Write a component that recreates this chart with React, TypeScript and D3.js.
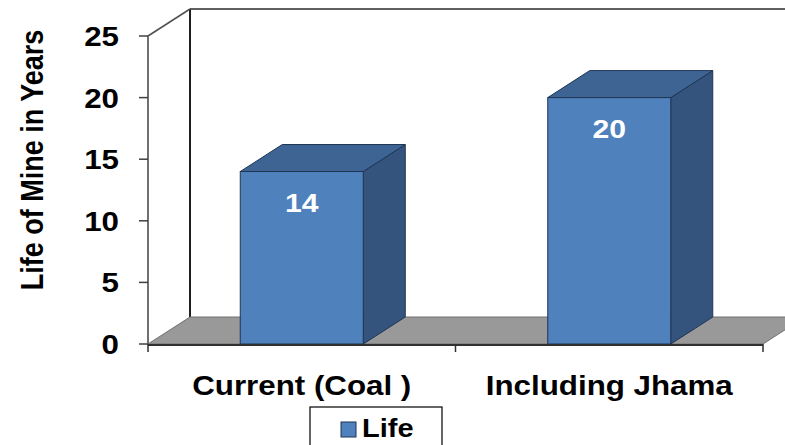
import React from "react";
import * as d3 from "d3";

const categories = ["Current (Coal )", "Including Jhama"];
const lifeValues = [14, 20];
const yTicks = [0, 5, 10, 15, 20, 25];
const seriesName = "Life";

const W = 785;
const H = 445;
const DX = 42;
const DY = -27;
const SX = 1.16;
const FONT = "'Liberation Sans', Arial, sans-serif";

function SText(props: {
  x: number;
  y: number;
  anchor?: "start" | "middle" | "end";
  size: number;
  fill?: string;
  children: React.ReactNode;
}) {
  const { x, y, anchor = "start", size, fill = "#000", children } = props;
  return (
    <text
      transform={`translate(${x},${y}) scale(${SX},1)`}
      textAnchor={anchor}
      fontFamily={FONT}
      fontWeight="bold"
      fontSize={size}
      fill={fill}
    >
      {children}
    </text>
  );
}

export default function App() {
  const y = d3.scaleLinear().domain([0, 25]).range([344, 36]);
  const x = d3
    .scaleBand<string>()
    .domain(categories)
    .range([148, 763])
    .paddingInner(0.6)
    .paddingOuter(0.3);
  const x0 = 148;
  const x1 = 763;
  const y0 = y(0);
  const yTop = y(25);

  const floor = [
    [x0, y0],
    [x0 + DX, y0 + DY],
    [x1 + DX, y0 + DY],
    [x1, y0],
  ];
  const pts = (a: number[][]) => a.map((p) => p.join(",")).join(" ");

  return (
    <svg
      width={W}
      height={H}
      style={{ position: "absolute", left: 0, top: 0, background: "#fff" }}
    >
      {/* back wall */}
      <line x1={x0 + DX} y1={yTop + DY} x2={W + 10} y2={yTop + DY} stroke="#606060" strokeWidth={2} />
      <line x1={x0 + DX} y1={yTop + DY} x2={x0 + DX} y2={y0 + DY} stroke="#202020" strokeWidth={2} />
      {/* left wall top edge */}
      <line x1={x0} y1={yTop} x2={x0 + DX} y2={yTop + DY} stroke="#505050" strokeWidth={1.5} />
      {/* floor */}
      <polygon points={pts(floor)} fill="#999999" stroke="#707070" strokeWidth={1} />
      {/* bars */}
      {categories.map((c, i) => {
        const bx = x(c)!;
        const bw = x.bandwidth();
        const ty = y(lifeValues[i]);
        const top = [
          [bx, ty],
          [bx + DX, ty + DY],
          [bx + bw + DX, ty + DY],
          [bx + bw, ty],
        ];
        const side = [
          [bx + bw, ty],
          [bx + bw + DX, ty + DY],
          [bx + bw + DX, y0 + DY],
          [bx + bw, y0],
        ];
        return (
          <g key={c}>
            <polygon points={pts(side)} fill="#34547e" stroke="#1f3553" strokeWidth={1} />
            <polygon points={pts(top)} fill="#3e6494" stroke="#1f3553" strokeWidth={1} />
            <rect x={bx} y={ty} width={bw} height={y0 - ty} fill="#4f81bd" stroke="#1f3553" strokeWidth={1} />
            <SText x={bx + bw / 2} y={ty + 40} anchor="middle" size={26} fill="#fff">
              {lifeValues[i]}
            </SText>
          </g>
        );
      })}
      {/* y axis */}
      <line x1={x0} y1={yTop} x2={x0} y2={y0 + 1} stroke="#707070" strokeWidth={2} />
      {yTicks.map((t) => (
        <g key={t}>
          <line x1={x0 - 9} y1={y(t)} x2={x0} y2={y(t)} stroke="#404040" strokeWidth={1.5} />
          <SText x={119} y={y(t) + 10} anchor="end" size={27}>
            {t}
          </SText>
        </g>
      ))}
      {/* x axis */}
      <line x1={x0} y1={y0 + 1} x2={x1} y2={y0 + 1} stroke="#303030" strokeWidth={2} />
      {[x0, (x0 + x1) / 2, x1].map((tx, i) => (
        <line key={i} x1={tx} y1={y0} x2={tx} y2={y0 + 8} stroke="#303030" strokeWidth={1.5} />
      ))}
      {categories.map((c) => (
        <SText key={c} x={x(c)! + x.bandwidth() / 2} y={395} anchor="middle" size={27}>
          {c}
        </SText>
      ))}
      {/* y title */}
      <text
        transform={`translate(43,${160}) scale(${SX},1) rotate(-90)`}
        textAnchor="middle"
        fontFamily={FONT}
        fontWeight="bold"
        fontSize={27}
        fill="#000"
      >
        Life of Mine in Years
      </text>
      {/* legend */}
      <rect x={310} y={407} width={132} height={50} fill="#fff" stroke="#000" strokeWidth={1.2} />
      <rect x={341} y={422} width={15} height={15} fill="#4f81bd" stroke="#1f3553" strokeWidth={1} />
      <SText x={362} y={437} size={25}>
        {seriesName}
      </SText>
    </svg>
  );
}
